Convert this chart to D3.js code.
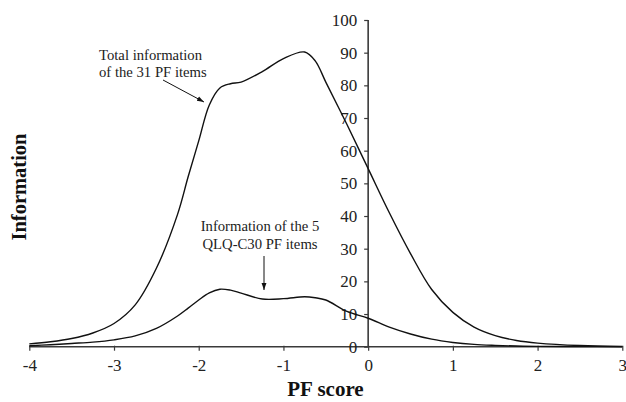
<!DOCTYPE html>
<html>
<head>
<meta charset="utf-8">
<script src="https://cdnjs.cloudflare.com/ajax/libs/d3/7.8.5/d3.min.js"></script>
<style>
  html, body { margin: 0; padding: 0; background: #fff; }
  svg { display: block; }
  svg text { font-family: "Liberation Serif", "Times New Roman", serif !important; }
</style>
</head>
<body>
<svg id="chart" width="626" height="402"></svg>
<script>
const pfScores = [-4, -3.75, -3.5, -3.25, -3, -2.75, -2.5, -2.25, -2.125, -2, -1.875, -1.75, -1.625, -1.5, -1.25, -1, -0.75, -0.625, -0.5, -0.25, 0, 0.25, 0.5, 0.75, 1, 1.25, 1.5, 1.75, 2, 2.5, 3];
const totalInfo = [0.85, 1.5, 2.5, 4.2, 7.1, 12.8, 24, 40.5, 52, 63, 74, 79.2, 80.5, 81.0, 84.2, 88.2, 90.2, 87.5, 81, 68, 54.5, 41, 28.5, 17.5, 10.5, 6, 3.4, 1.9, 1.1, 0.35, 0.1];
const qlqInfo = [0.3, 0.6, 1.0, 1.4, 2.1, 3.3, 5.6, 9.4, 11.8, 14.3, 16.5, 17.6, 17.3, 16.4, 14.6, 14.7, 15.3, 15.0, 14.3, 10.8, 8.7, 6.0, 3.9, 2.3, 1.3, 0.7, 0.4, 0.2, 0.1, 0.03, 0];
const xTicks = [-4, -3, -2, -1, 0, 1, 2, 3];
const yTicks = [0, 10, 20, 30, 40, 50, 60, 70, 80, 90, 100];

const svg = d3.select("#chart");
const x = d3.scaleLinear().domain([-4, 3]).range([29.3, 622.3]);
const y = d3.scaleLinear().domain([0, 100]).range([346.7, 20]);

const axisColor = "#3a3a3a";
const serif = "Liberation Serif";

// x axis
const xAxis = svg.append("g").attr("transform", `translate(0,${y(0)})`)
  .call(d3.axisBottom(x).tickValues(xTicks).tickSize(4).tickPadding(8).tickFormat(d3.format("d")));
xAxis.attr("font-family", serif);
xAxis.select(".domain").attr("stroke", axisColor).attr("stroke-width", 1.6).attr("d", `M${x(-4)},0H${x(3)}`);
xAxis.selectAll(".tick line").attr("stroke", axisColor).attr("stroke-width", 1.2).attr("y1", -1);
xAxis.selectAll(".tick text").attr("font-family", serif).attr("font-size", 17).attr("fill", "#222")
  .text(d => d < 0 ? "-" + Math.abs(d) : d);

// y axis at x = 0
const yAxis = svg.append("g").attr("transform", `translate(${x(0)},0)`)
  .call(d3.axisLeft(y).tickValues(yTicks).tickSize(4).tickPadding(7).tickFormat(d3.format("d")));
yAxis.attr("font-family", serif);
yAxis.select(".domain").attr("stroke", axisColor).attr("stroke-width", 1.6).attr("d", `M0,${y(0)}V${y(100)}`);
yAxis.selectAll(".tick line").attr("stroke", axisColor).attr("stroke-width", 1.2);
yAxis.selectAll(".tick text").attr("font-family", serif).attr("font-size", 17).attr("fill", "#222");

// curves
const line = d3.line().x((d, i) => x(pfScores[i])).y(d => y(d)).curve(d3.curveCatmullRom.alpha(0.5));
svg.append("path").datum(totalInfo).attr("d", line).attr("fill", "none").attr("stroke", "#111").attr("stroke-width", 1.4);
svg.append("path").datum(qlqInfo).attr("d", line).attr("fill", "none").attr("stroke", "#111").attr("stroke-width", 1.4);

// axis titles
svg.append("text").attr("x", 325.5).attr("y", 396).attr("text-anchor", "middle").attr("font-family", serif)
  .attr("font-size", 21).attr("font-weight", "bold").attr("fill", "#111").text("PF score");
svg.append("text").attr("transform", "translate(26,187) rotate(-90)").attr("text-anchor", "middle").attr("font-family", serif)
  .attr("font-size", 20.5).attr("font-weight", "bold").attr("fill", "#111").text("Information");

// annotations
const defs = svg.append("defs");
defs.append("marker").attr("id", "arr").attr("viewBox", "0 0 10 10").attr("refX", 10).attr("refY", 5)
  .attr("markerWidth", 7).attr("markerHeight", 7).attr("orient", "auto")
  .append("path").attr("d", "M0,1.5L10,5L0,8.5z").attr("fill", "#111");

svg.append("text").attr("x", 99).attr("y", 60).attr("font-family", serif).attr("font-size", 14.7).attr("fill", "#222").text("Total information");
svg.append("text").attr("x", 99).attr("y", 77).attr("font-family", serif).attr("font-size", 14.7).attr("fill", "#222").text("of the 31 PF items");
svg.append("line").attr("x1", 163).attr("y1", 80).attr("x2", 204).attr("y2", 102)
  .attr("stroke", "#111").attr("stroke-width", 1).attr("marker-end", "url(#arr)");

svg.append("text").attr("x", 260).attr("y", 231).attr("text-anchor", "middle").attr("font-family", serif).attr("font-size", 14.7).attr("fill", "#222").text("Information of the 5");
svg.append("text").attr("x", 260).attr("y", 249).attr("text-anchor", "middle").attr("font-family", serif).attr("font-size", 14.7).attr("fill", "#222").text("QLQ-C30 PF items");
svg.append("line").attr("x1", 264).attr("y1", 256).attr("x2", 264).attr("y2", 290)
  .attr("stroke", "#111").attr("stroke-width", 1).attr("marker-end", "url(#arr)");
</script>
</body>
</html>
